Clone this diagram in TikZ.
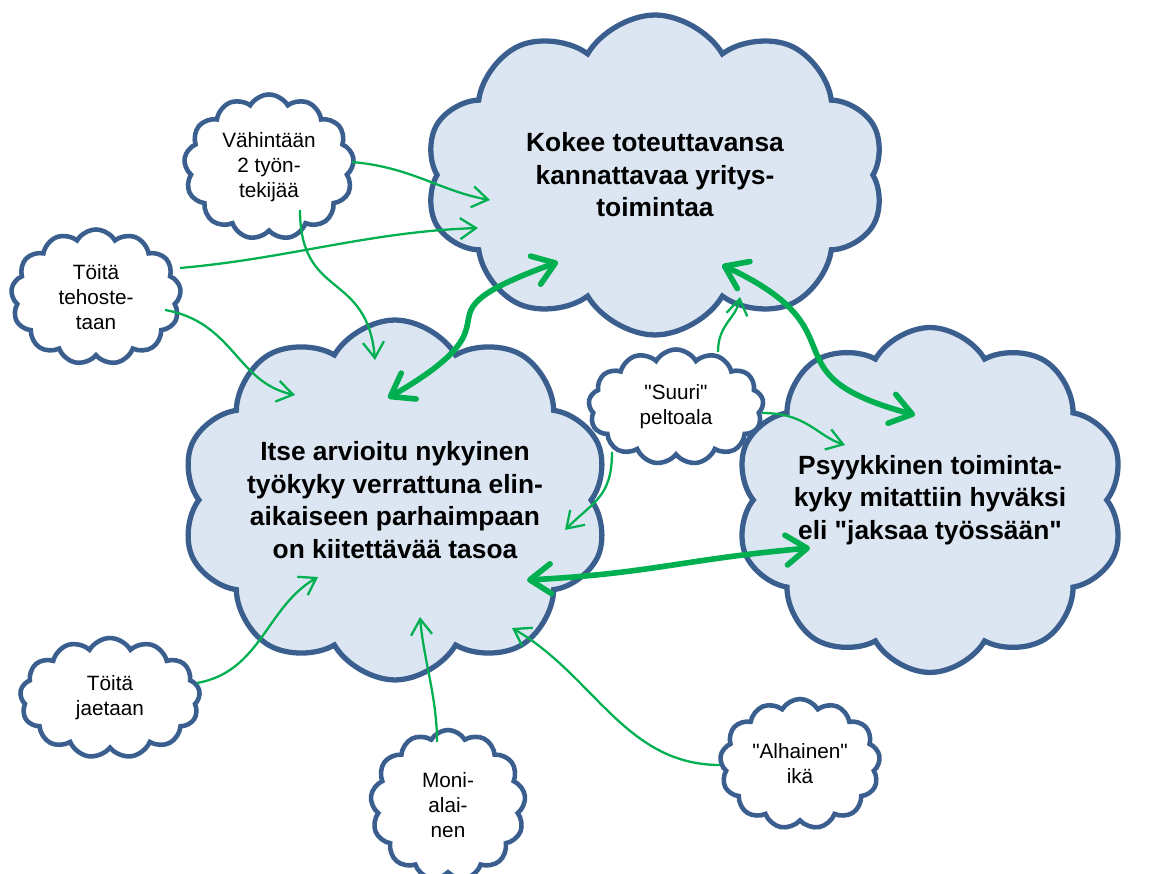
\documentclass[tikz,border=0pt]{standalone}
\usepackage{fontspec}
\setmainfont{Liberation Sans}[Ligatures=TeXOff]
\usepackage{tikz}
\usetikzlibrary{shapes.symbols, arrows.meta, calc}

\definecolor{cloudline}{HTML}{3A5F8F}
\definecolor{cloudfill}{HTML}{DCE6F2}
\definecolor{linkgreen}{HTML}{00B050}

\begin{document}
\begin{tikzpicture}[x=0.02cm, y=0.02cm,
		bigcloud/.style={cloud, cloud puffs=10, cloud puff arc=120, cloud ignores aspect,
			draw=cloudline, fill=cloudfill, line width=3pt, inner sep=0pt, align=center,
			font=\fontsize{15}{18.5}\selectfont\bfseries},
		smallcloud/.style={cloud, cloud puffs=13, cloud puff arc=120, cloud ignores aspect,
			draw=cloudline, fill=white, line width=2.6pt, inner sep=0pt, align=center,
			font=\fontsize{11.8}{14.2}\selectfont},
		sidelink/.style={draw=linkgreen, line width=1.3pt, -{Straight Barb[length=9pt, width=12pt]}},
		mainlink/.style={draw=linkgreen, line width=3.2pt,
			{Straight Barb[length=12pt, width=17pt, round]}-{Straight Barb[length=12pt, width=17pt, round]}}]
		\useasboundingbox (0,0) rectangle (1158,874);

		% Big clouds
		\node[bigcloud, minimum width=9.2cm, minimum height=6.4cm] (cloud_business) at (655,699) {
				Kokee toteuttavansa\\kannattavaa yritys-\\toimintaa
			};
		\node[bigcloud, minimum width=7.2cm, minimum height=7.2cm] (cloud_workability) at (395,374) {
				Itse arvioitu nykyinen\\työkyky verrattuna elin-\\aikaiseen parhaimpaan\\on kiitettävää tasoa
			};
		\node[bigcloud, minimum width=6.4cm, minimum height=6.9cm] (cloud_mental) at (930,374) {
				Psyykkinen toiminta-\\kyky mitattiin hyväksi\\eli "jaksaa työssään"
			};

		% Small clouds
		\node[smallcloud, minimum width=3.4cm, minimum height=2.9cm] (cloud_staff) at (269,707) {
				Vähintään\\2 työn-\\tekijää
			};
		\node[smallcloud, minimum width=3.4cm, minimum height=2.7cm] (cloud_boost) at (96,577) {
				Töitä\\tehoste-\\taan
			};
		\node[smallcloud, minimum width=3.5cm, minimum height=2.3cm] (cloud_field) at (676,467) {
				"Suuri"\\peltoala
			};
		\node[smallcloud, minimum width=3.6cm, minimum height=2.4cm] (cloud_share) at (110,176) {
				Töitä\\jaetaan
			};
		\node[smallcloud, minimum width=3.1cm, minimum height=3cm] (cloud_multi) at (448,69) {
				Moni-\\alai-\\nen
			};
		\node[smallcloud, minimum width=3.2cm, minimum height=2.6cm] (cloud_age) at (800,110) {
				"Alhainen"\\ikä
			};

		% Thin links into the big clouds
		\draw[sidelink] ($(cloud_staff)+(83,5)$) .. controls +(-5:60) and +(170:50) .. ($(cloud_business)+(-165,-25)$);
		\draw[sidelink] ($(cloud_staff)+(31,-43)$) .. controls +(270:90) and +(95:90) .. ($(cloud_workability)+(-20,140)$);
		\draw[sidelink] ($(cloud_boost)+(84,29)$) .. controls +(5:110) and +(182:110) .. ($(cloud_business)+(-177,-53)$);
		\draw[sidelink] ($(cloud_boost)+(69,-13)$) .. controls +(-10:70) and +(168:60) .. ($(cloud_workability)+(-100,105)$);
		\draw[sidelink] ($(cloud_field)+(42,55)$) .. controls +(90:28) and +(260:22) .. ($(cloud_business)+(85,-122)$);
		\draw[sidelink] ($(cloud_field)+(86,-6)$) .. controls +(0:45) and +(162:30) .. ($(cloud_mental)+(-85,55)$);
		\draw[sidelink] ($(cloud_field)+(-64,-45)$) .. controls +(270:45) and +(45:40) .. ($(cloud_workability)+(170,-30)$);
		\draw[sidelink] ($(cloud_share)+(87,15)$) .. controls +(10:65) and +(210:60) .. ($(cloud_workability)+(-77,-77)$);
		\draw[sidelink] ($(cloud_multi)+(-11,63)$) .. controls +(90:45) and +(275:45) .. ($(cloud_workability)+(25,-117)$);
		\draw[sidelink] ($(cloud_age)+(-80,-1)$) .. controls +(180:95) and +(330:95) .. ($(cloud_workability)+(117,-128)$);

		% Thick links between the big clouds
		\draw[mainlink] ($(cloud_workability)+(-7,102)$) .. controls +(30:170) and +(200:170) .. ($(cloud_business)+(-97,-87)$);
		\draw[mainlink] ($(cloud_business)+(67,-90)$) .. controls +(335:160) and +(165:160) .. ($(cloud_mental)+(-15,85)$);
		\draw[mainlink] ($(cloud_workability)+(132,-80)$) .. controls +(3:125) and +(185:125) .. ($(cloud_mental)+(-120,-48)$);
	\end{tikzpicture}
\end{document}
